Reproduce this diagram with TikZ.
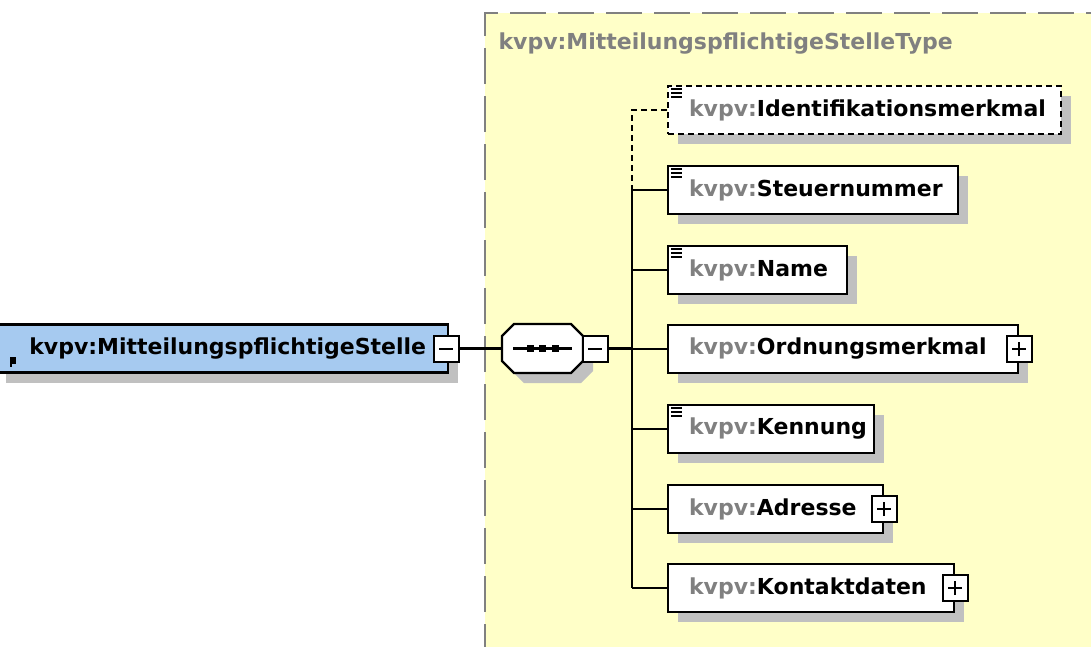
\documentclass[tikz,border=0pt]{standalone}
\usepackage{fontspec}
\setmainfont{DejaVu Sans}
\usetikzlibrary{positioning,shadows}
\definecolor{xsdyellow}{RGB}{255,255,200}
\definecolor{xsdblue}{RGB}{166,202,240}
\definecolor{xsdgray}{RGB}{128,128,128}
\definecolor{xsdshadow}{RGB}{192,192,192}
\newcommand{\pfx}{\textcolor{xsdgray}{kvpv:}}
\newcommand{\plusbox}[2]{\node[expander] (#1) at (#2) {};
					\draw[sign] ([xshift=-7pt]#1.center) -- ([xshift=7pt]#1.center);
					\draw[sign] ([yshift=-7pt]#1.center) -- ([yshift=7pt]#1.center);}
\newcommand{\minusbox}[2]{\node[expander] (#1) at (#2) {};
					\draw[sign] ([xshift=-7pt]#1.center) -- ([xshift=7pt]#1.center);}
\newcommand{\simpleicon}[1]{\foreach \dy in {4.5,8.5,12.5}
					\draw[line width=2pt] ([xshift=4pt,yshift=-\dy pt]#1.north west) -- ++(11,0);}
\newcommand{\octagon}{(-40.5,-12.5) -- (-28.5,-24.5) -- (28.5,-24.5) -- (40.5,-12.5)
					-- (40.5,12.5) -- (28.5,24.5) -- (-28.5,24.5) -- (-40.5,12.5) -- cycle}
\tikzset{
	elem/.style={draw, line width=2.2pt, fill=white, anchor=west, minimum height=48pt,
		inner xsep=21pt, inner ysep=0pt, align=left, font=\fontsize{22}{26}\selectfont\bfseries,
		drop shadow={shadow xshift=10pt, shadow yshift=-10pt, opacity=1, fill=xsdshadow}},
	optelem/.style={elem, dash pattern=on 6pt off 4pt},
	rootelem/.style={elem, fill=xsdblue, align=right, inner xsep=22pt},
	expander/.style={draw, line width=2pt, fill=white, minimum width=25pt, minimum height=26pt, inner sep=0pt},
	sign/.style={line width=2pt},
	wire/.style={line width=2.2pt},
	seqbox/.style={minimum width=81pt, minimum height=49pt, inner sep=0pt},
	typelabel/.style={anchor=west, text=xsdgray, font=\fontsize{22}{26}\selectfont\bfseries}
}

\begin{document}
\begin{tikzpicture}[x=1pt, y=-1pt]
					\useasboundingbox (0,0) rectangle (1091,646);
					\fill[white] (0,0) rectangle (1091,646);

					\fill[xsdyellow] (485,13) rectangle (1100,660);
					\draw[xsdgray, line width=2.2pt, dash pattern=on 36pt off 12pt] (485,660) -- (485,13) -- (1100,13);
					\node[typelabel] (typename) at (495,44) {kvpv:MitteilungspflichtigeStelleType};

					\node[rootelem, text width=408pt] (root) at (-5,348.5) {kvpv:MitteilungspflichtigeStelle};
					\fill (10,357) rectangle (16,364);
					\fill (10,364) rectangle (12,367);
					\minusbox{rootminus}{446,348.5}

					\node[seqbox] (seq) at (542.5,348.5) {};
					\begin{scope}[shift={(552.5,358.5)}]
						\fill[xsdshadow] \octagon;
					\end{scope}
					\begin{scope}[shift={(seq.center)}]
						\draw[wire, fill=white] \octagon;
					\end{scope}
					\draw[wire] (513,348.5) -- (572,348.5);
					\foreach \x in {530,542,555}
						\fill (\x-3.5,345) rectangle (\x+3.5,352);
					\minusbox{seqminus}{595,348.5}
					\coordinate (hub) at (632,348.5);

					\node[optelem, text width=351pt] (ident) at (667,110) {\pfx Identifikationsmerkmal};
					\node[elem, text width=248pt] (steuer) at (667,190) {\pfx Steuernummer};
					\node[elem, text width=137pt] (name) at (667,270) {\pfx Name};
					\node[elem, text width=308pt] (ordnung) at (667,349) {\pfx Ordnungsmerkmal};
					\node[elem, text width=164pt] (kennung) at (667,429) {\pfx Kennung};
					\node[elem, text width=173pt] (adresse) at (667,509) {\pfx Adresse};
					\node[elem, text width=244pt] (kontakt) at (667,588) {\pfx Kontaktdaten};

					\simpleicon{ident}
					\simpleicon{steuer}
					\simpleicon{name}
					\simpleicon{kennung}
					\plusbox{ordplus}{ordnung.east}
					\plusbox{adrplus}{adresse.east}
					\plusbox{konplus}{kontakt.east}

					\draw[wire] (rootminus) -- (seq);
					\draw[wire] (seqminus) -- (hub);
					\draw[wire, dash pattern=on 6pt off 4pt] (ident.west) -- (ident.west -| hub) -- (steuer.west -| hub);
					\draw[wire] (steuer.west -| hub) -- (kontakt.west -| hub);
					\foreach \n in {steuer,name,ordnung,kennung,adresse,kontakt}
						\draw[wire] (\n.west -| hub) -- (\n.west);

				\end{tikzpicture}
\end{document}
